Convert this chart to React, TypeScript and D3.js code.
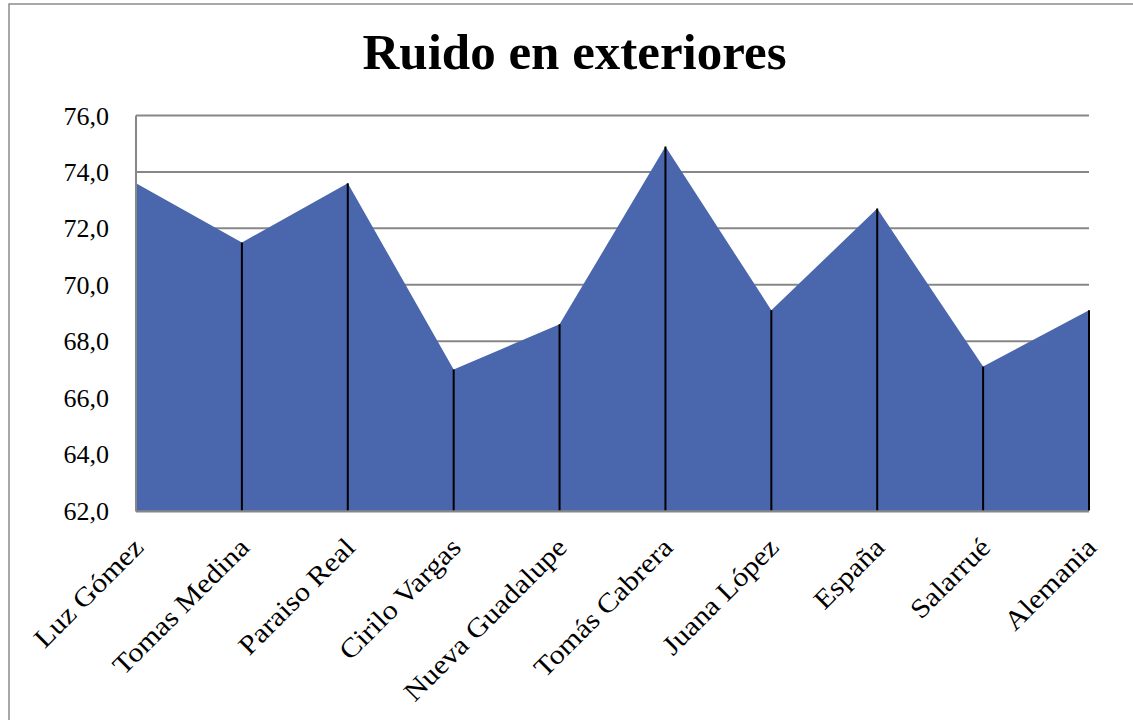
import React from "react";
import * as d3 from "d3";

const categories = [
  "Luz Gómez",
  "Tomas Medina",
  "Paraiso Real",
  "Cirilo Vargas",
  "Nueva Guadalupe",
  "Tomás Cabrera",
  "Juana López",
  "España",
  "Salarrué",
  "Alemania",
];
const values = [73.6, 71.5, 73.6, 67.0, 68.6, 74.9, 69.1, 72.7, 67.1, 69.1];
const yTicks = [62, 64, 66, 68, 70, 72, 74, 76];
const title = "Ruido en exteriores";

const W = 1133;
const H = 720;
const plot = { left: 136, right: 1089, top: 115.5, bottom: 510.5 };
const FONT = "'Liberation Serif', 'Times New Roman', serif";

export default function App() {
  const x = d3
    .scalePoint<string>()
    .domain(categories)
    .range([plot.left, plot.right]);
  const y = d3.scaleLinear().domain([62, 76]).range([plot.bottom, plot.top]);

  const area = d3
    .area<number>()
    .x((_, i) => x(categories[i]) as number)
    .y0(y(62))
    .y1((d) => y(d));

  const fmt = (v: number) => d3.format(".1f")(v).replace(".", ",");

  return (
    <svg
      width={W}
      height={H}
      style={{ position: "fixed", left: 0, top: 0, background: "#fff" }}
    >
      <rect x={0} y={0} width={W} height={H} fill="#fff" />
      <rect
        x={9}
        y={4}
        width={W + 20}
        height={H + 20}
        fill="none"
        stroke="#8c8c8c"
        strokeWidth={1.5}
      />
      <text
        x={574.5}
        y={69}
        textAnchor="middle"
        fontFamily={FONT}
        fontWeight="bold"
        fontSize={51}
        fill="#000"
      >
        {title}
      </text>
      {yTicks.map((t) => (
        <g key={t}>
          <line
            x1={plot.left}
            x2={plot.right}
            y1={y(t)}
            y2={y(t)}
            stroke="#878787"
            strokeWidth={2}
          />
          <text
            x={109}
            y={y(t)}
            dy="0.35em"
            textAnchor="end"
            fontFamily={FONT}
            fontSize={26}
            fill="#000"
          >
            {fmt(t)}
          </text>
        </g>
      ))}
      <path d={area(values) as string} fill="#4A66AC" />
      {values.map((v, i) => (
        <line
          key={i}
          x1={x(categories[i]) as number}
          x2={x(categories[i]) as number}
          y1={y(v)}
          y2={y(62)}
          stroke="#000"
          strokeWidth={2}
        />
      ))}
      <line
        x1={plot.left}
        x2={plot.left}
        y1={plot.top}
        y2={plot.bottom + 1}
        stroke="#878787"
        strokeWidth={2}
      />
      <line
        x1={plot.left}
        x2={plot.right}
        y1={plot.bottom + 1}
        y2={plot.bottom + 1}
        stroke="#878787"
        strokeWidth={2}
      />
      {categories.map((c) => {
        const cx = (x(c) as number) + 9;
        const cy = 549;
        return (
          <text
            key={c}
            x={0}
            y={0}
            transform={`translate(${cx}, ${cy}) rotate(-45) scale(1.12, 1)`}
            textAnchor="end"
            fontFamily={FONT}
            fontSize={27}
            fill="#000"
          >
            {c}
          </text>
        );
      })}
    </svg>
  );
}
